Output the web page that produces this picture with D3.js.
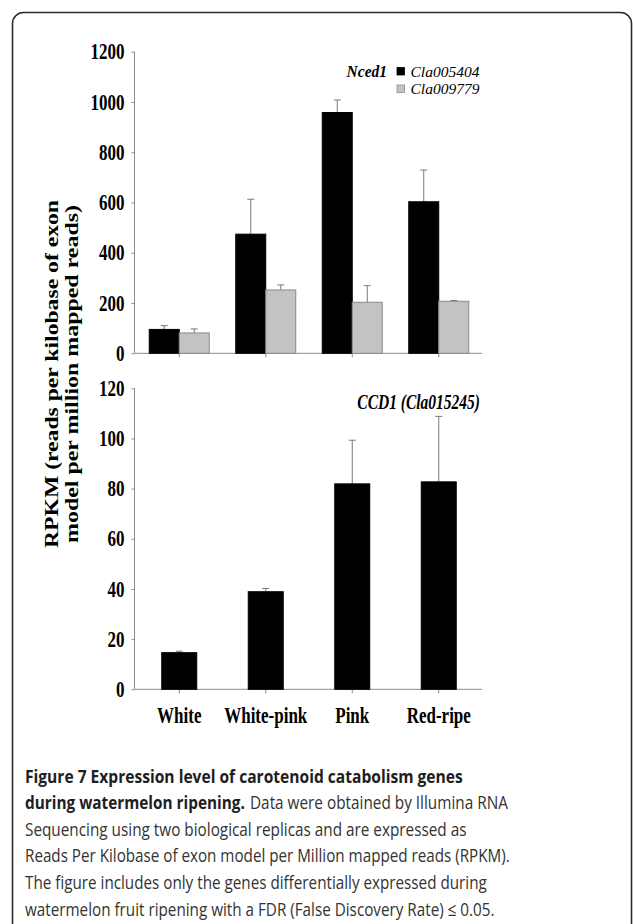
<!DOCTYPE html>
<html>
<head>
<meta charset="utf-8">
<script src="https://cdn.jsdelivr.net/npm/d3@7"></script>
<style>
  html, body { margin: 0; padding: 0; background: #fff; }
  svg { display: block; }
</style>
</head>
<body>
<svg id="fig" width="633" height="924"></svg>
<script>
// ripening stages on the x axis
const STAGES = ['White', 'White-pink', 'Pink', 'Red-ripe'];

// Nced1 — two genes, RPKM + upper error
const CLA005404     = [95, 474, 958, 603];
const CLA005404_ERR = [15, 139, 50, 126];
const CLA009779     = [81, 252, 203, 207];
const CLA009779_ERR = [16, 20, 66, 3];

// CCD1 (Cla015245)
const CCD1     = [14.6, 38.9, 81.9, 82.7];
const CCD1_ERR = [0.6, 1.3, 17.4, 26.1];

const TOP_TICKS = [0, 200, 400, 600, 800, 1000, 1200];
const BOT_TICKS = [0, 20, 40, 60, 80, 100, 120];

// caption pieces: text, bold?, start x, width
const CAPTION = [
  [['Figure 7 Expression level of carotenoid catabolism genes', true, 25, 438]],
  [['during watermelon ripening.', true, 25, 220], ['Data were obtained by Illumina RNA', false, 250, 258]],
  [['Sequencing using two biological replicas and are expressed as', false, 25, 442]],
  [['Reads Per Kilobase of exon model per Million mapped reads (RPKM).', false, 25, 485]],
  [['The figure includes only the genes differentially expressed during', false, 25, 462]],
  [['watermelon fruit ripening with a FDR (False Discovery Rate) \u2264 0.05.', false, 25, 470]],
];

const SERIF = '"Liberation Serif","Times New Roman",serif';
const AX = '#8c8c8c';
const STRETCH = 1.3;   // the original plot was scaled up vertically

const svg = d3.select('#fig');

// serif label, stretched vertically like the source figure
function label(parent, x, y, txt, k = STRETCH) {
  return parent.append('text')
    .attr('transform', `translate(${x},${y}) scale(1,${k})`)
    .text(txt);
}

// rounded frame, cropped on the right and bottom
svg.append('rect')
  .attr('x', 12.5).attr('y', 12.5).attr('width', 619).attr('height', 960)
  .attr('rx', 11).attr('fill', 'none').attr('stroke', '#2b2b2b').attr('stroke-width', 1.6);

const x = d3.scaleBand().domain(STAGES).range([136, 482]).padding(0);
const cx = s => x(s) + x.bandwidth() / 2;

const yTop = d3.scaleLinear().domain([0, 1200]).range([353.3, 51.7]);
const yBot = d3.scaleLinear().domain([0, 120]).range([689.3, 388.3]);

function axes(y, ticks) {
  const g = svg.append('g');
  const ya = g.append('g').attr('transform', 'translate(134.5,0)')
    .call(d3.axisLeft(y).tickValues(ticks).tickSize(3).tickPadding(7).tickFormat(d3.format('d')));
  ya.select('.domain').attr('stroke', AX).attr('d', `M0,${y(ticks[ticks.length - 1])}V${y(0)}`);
  ya.selectAll('.tick line').attr('stroke', AX);
  ya.selectAll('.tick text')
    .attr('transform', `scale(1,${STRETCH})`)
    .attr('font-family', SERIF).attr('font-weight', 'bold').attr('font-size', '17px').attr('fill', '#000');

  const xa = g.append('g').attr('transform', `translate(0,${y(0)})`)
    .call(d3.axisBottom(x).tickSize(4).tickFormat(''));
  xa.select('.domain').attr('stroke', AX).attr('d', 'M134.5,0H482');
  xa.selectAll('.tick line').attr('stroke', AX);
  return g;
}

function errBars(g, y, vals, errs, xpos) {
  const cap = 3.5;
  g.selectAll(null).data(vals).join('path')
    .attr('fill', 'none').attr('stroke', '#7a7a7a').attr('stroke-width', 1)
    .attr('d', (v, i) => {
      const px = xpos(i), y0 = y(v), y1 = y(v + errs[i]);
      return `M${px},${y0}V${y1}M${px - cap},${y1}H${px + cap}`;
    });
}

// ---- upper panel: Nced1
axes(yTop, TOP_TICKS);
const sub = d3.scaleBand().domain(['a', 'b']).range([-30, 30]);
const gTop = svg.append('g');
const topSeries = [
  { k: 'a', name: 'Cla005404', v: CLA005404, e: CLA005404_ERR, fill: '#000', stroke: '#000' },
  { k: 'b', name: 'Cla009779', v: CLA009779, e: CLA009779_ERR, fill: '#c3c3c3', stroke: '#8a8a8a' },
];
topSeries.forEach(s => {
  errBars(gTop, yTop, s.v, s.e, i => cx(STAGES[i]) + sub(s.k) + sub.bandwidth() / 2);
  gTop.selectAll(null).data(s.v).join('rect')
    .attr('x', (v, i) => cx(STAGES[i]) + sub(s.k))
    .attr('y', v => yTop(v))
    .attr('width', sub.bandwidth())
    .attr('height', v => yTop(0) - yTop(v))
    .attr('fill', s.fill).attr('stroke', s.stroke).attr('stroke-width', 1);
});

// legend (rows are tight, so only a light stretch here)
const lg = svg.append('g').attr('font-family', SERIF).attr('font-size', '15.5px').attr('font-style', 'italic');
label(lg, 387, 76.5, 'Nced1', 1.1).attr('text-anchor', 'end').attr('font-weight', 'bold');
lg.selectAll(null).data(topSeries).join('rect')
  .attr('x', 397).attr('y', (d, i) => 67.5 + i * 17.5).attr('width', 7.5).attr('height', 7.5)
  .attr('fill', d => d.fill).attr('stroke', d => d.stroke).attr('stroke-width', 0.8);
topSeries.forEach((s, i) => label(lg, 410.5, 76.5 + i * 17.5, s.name, 1.0));

// ---- lower panel: CCD1
axes(yBot, BOT_TICKS);
const gBot = svg.append('g');
errBars(gBot, yBot, CCD1, CCD1_ERR, i => cx(STAGES[i]));
gBot.selectAll(null).data(CCD1).join('rect')
  .attr('x', (v, i) => cx(STAGES[i]) - 17.5)
  .attr('y', v => yBot(v))
  .attr('width', 35)
  .attr('height', v => yBot(0) - yBot(v))
  .attr('fill', '#000').attr('stroke', '#000');

label(svg, 480, 409, 'CCD1 (Cla015245)').attr('text-anchor', 'end')
  .attr('font-family', SERIF).attr('font-size', '15.5px').attr('font-style', 'italic').attr('font-weight', 'bold');

// category labels
const xl = svg.append('g').attr('font-family', SERIF).attr('font-weight', 'bold').attr('font-size', '17px')
  .attr('text-anchor', 'middle');
STAGES.forEach(s => label(xl, cx(s), 723, s));

// shared y title (stretched along its length)
const yt = svg.append('g').attr('transform', 'translate(0,374) rotate(-90)')
  .attr('font-family', SERIF).attr('font-weight', 'bold').attr('font-size', '19.5px');
yt.append('text').attr('x', -174).attr('y', 58).attr('textLength', 348).attr('lengthAdjust', 'spacingAndGlyphs')
  .text('RPKM (reads per kilobase of exon');
yt.append('text').attr('x', -169).attr('y', 78).attr('textLength', 338).attr('lengthAdjust', 'spacingAndGlyphs')
  .text('model per million mapped reads)');

// caption: narrow face, so shrink the font to the line width and stretch back up
const CAP_FS = 18.5;
const cap = svg.append('g').attr('font-family', '"Open Sans","Noto Sans",sans-serif');
CAPTION.forEach((line, i) => {
  const by = 782.5 + i * 26.65;
  line.forEach(([t, b, x0, w]) => {
    const el = cap.append('text')
      .attr('font-size', CAP_FS + 'px')
      .attr('font-weight', b ? 'bold' : 'normal')
      .attr('fill', b ? '#1e1e1e' : '#333')
      .text(t);
    const k = w / el.node().getComputedTextLength();
    el.attr('font-size', (CAP_FS * k) + 'px')
      .attr('transform', `translate(${x0},${by}) scale(1,${1 / k})`);
  });
});
</script>
</body>
</html>
